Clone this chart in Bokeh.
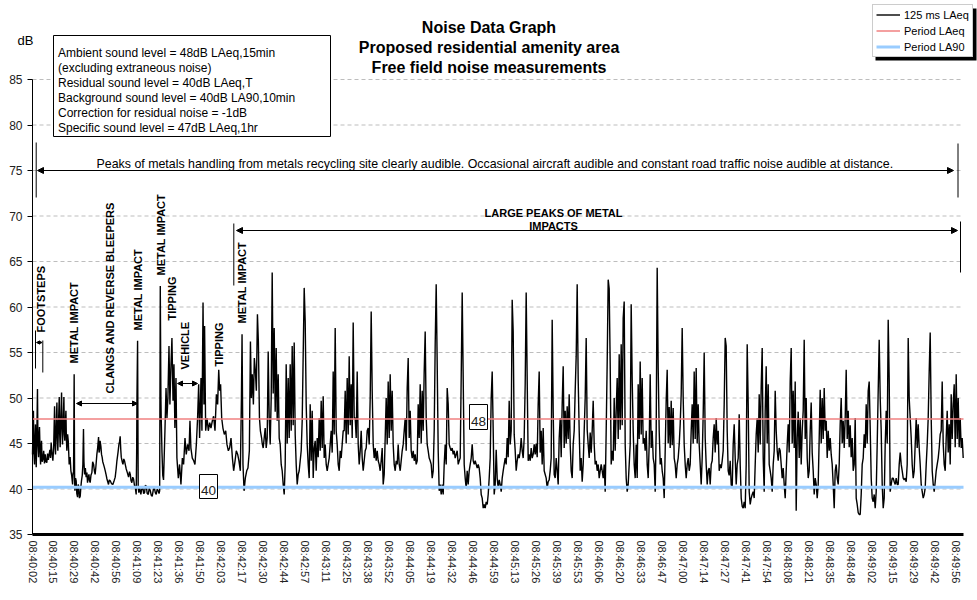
import numpy as np
from bokeh.plotting import figure
from bokeh.models import (Range1d, FixedTicker, Label, Arrow, NormalHead,
                          Legend, LegendItem, BoxAnnotation)
from bokeh.embed import file_html
from bokeh.resources import INLINE

# ---------------- data ----------------
# first part of the 125 ms LAeq trace: (seconds after 08:40:02, dB)
EARLY_POINTS = [
    (0.0, 43.8), (0.3, 46.5), (0.6, 48.6), (0.9, 44.0), (1.3, 42.7), (1.6, 45.5), (1.9, 47.1), (2.2, 44.0),
    (2.4, 42.4), (2.8, 46.0), (3.2, 51.0), (3.5, 45.0), (3.9, 43.5), (4.2, 45.8), (4.5, 46.8), (4.9, 44.0),
    (5.2, 42.7), (5.5, 44.5), (5.8, 45.3), (6.2, 43.0), (6.7, 43.3), (7.2, 44.2), (7.7, 42.8), (8.2, 43.8),
    (8.7, 43.0), (9.2, 42.9), (9.7, 43.9), (10.2, 43.2), (10.7, 43.8), (11.2, 44.3), (11.6, 43.4), (12.0, 45.1),
    (12.5, 44.0), (13.1, 43.1), (13.6, 44.5), (14.2, 49.1), (14.5, 45.0), (14.8, 43.8), (15.2, 46.5), (15.7, 49.5),
    (16.0, 45.5), (16.3, 44.2), (16.7, 47.0), (17.2, 50.1), (17.5, 46.0), (17.8, 44.6), (18.2, 47.5), (18.7, 50.6),
    (19.0, 46.5), (19.3, 44.9), (19.7, 47.0), (20.2, 50.1), (20.5, 46.0), (20.8, 45.3), (21.1, 47.0), (21.5, 48.6),
    (21.8, 45.5), (22.1, 44.2), (22.6, 46.0), (23.0, 45.3), (23.3, 44.0), (23.6, 42.7), (24.2, 43.5), (24.7, 42.0),
    (25.2, 41.5), (25.8, 40.5), (26.1, 41.8), (26.4, 41.6), (26.8, 52.6), (27.1, 41.0), (27.3, 39.8), (27.7, 41.2),
    (28.1, 40.9), (28.5, 39.5), (29.0, 39.1), (29.4, 40.5), (29.8, 40.2), (30.2, 39.0), (30.7, 39.2), (31.1, 40.2),
    (31.5, 40.9), (32.0, 41.5), (32.4, 42.7), (32.8, 46.6), (33.1, 43.0), (33.5, 41.6), (34.0, 42.3), (34.5, 41.3),
    (35.0, 41.8), (35.4, 40.7), (35.8, 41.2), (36.3, 41.6), (36.7, 40.9), (37.1, 40.7), (37.6, 41.5), (38.2, 41.8),
    (38.7, 43.0), (39.3, 42.7), (39.8, 42.0), (40.3, 41.6), (40.8, 42.5), (41.4, 43.8), (41.9, 44.5), (42.5, 45.7),
    (42.8, 44.0), (43.1, 44.2), (43.5, 45.3), (44.0, 44.7), (44.4, 43.8), (44.8, 43.5), (45.2, 43.0), (45.7, 42.7),
    (46.2, 42.4), (46.8, 42.0), (47.3, 41.6), (47.9, 41.1), (48.4, 40.8), (48.9, 40.5), (49.4, 41.0), (50.0, 40.9),
    (50.8, 40.6), (51.7, 40.5), (52.5, 40.9), (53.2, 41.3), (53.8, 42.2), (54.3, 43.1), (55.0, 44.0), (55.6, 44.9),
    (56.0, 45.2), (56.4, 45.8), (56.8, 44.3), (57.1, 43.5), (57.7, 43.0), (58.2, 42.7), (58.7, 43.3), (59.2, 43.1),
    (59.8, 42.6), (60.3, 42.2), (61.0, 41.8), (61.8, 41.3), (62.4, 41.9), (62.9, 41.6), (63.4, 40.9), (63.9, 40.7),
    (64.5, 41.3), (65.0, 41.1), (65.6, 40.4), (66.1, 40.2), (66.7, 39.4), (67.0, 44.0), (67.2, 50.1), (67.6, 56.3),
    (68.0, 40.2), (68.4, 39.6), (68.9, 40.3), (69.3, 39.8), (69.7, 39.4), (70.3, 40.0), (71.0, 40.2), (71.5, 39.5),
    (72.1, 39.6), (72.6, 40.4), (73.2, 40.3), (73.8, 39.5), (74.5, 39.4), (75.1, 40.1), (75.8, 39.8), (76.4, 39.3),
    (77.0, 39.2), (77.7, 39.9), (78.3, 40.2), (79.0, 39.6), (79.6, 39.4), (80.2, 40.0), (80.9, 39.8), (81.4, 39.5),
    (81.8, 39.8), (82.2, 62.3), (82.6, 50.0), (82.8, 47.8), (83.3, 44.0), (83.8, 41.5), (84.3, 41.0), (85.2, 46.4),
    (85.9, 51.1), (86.5, 47.8), (87.1, 50.0), (87.8, 55.7), (88.4, 49.3), (89.1, 53.7), (89.7, 56.6), (90.4, 49.7),
    (91.0, 53.7), (91.6, 46.7), (92.3, 52.2), (92.9, 43.4), (93.8, 41.2), (94.6, 42.7), (95.5, 40.5), (96.4, 43.4),
    (97.2, 42.7), (98.1, 45.6), (98.9, 43.8), (99.8, 44.9), (100.7, 44.2), (101.3, 47.5), (101.9, 44.5), (102.8, 43.4),
    (103.7, 43.1), (104.5, 42.7), (105.4, 44.9), (106.2, 47.8), (106.9, 51.5), (107.5, 45.6), (108.4, 52.2), (109.0, 46.4),
    (109.7, 60.5), (110.3, 49.3), (110.7, 57.9), (111.4, 46.4), (112.3, 47.8), (113.1, 46.4), (114.0, 47.3), (114.8, 46.7),
    (115.7, 47.5), (116.5, 48.0), (117.4, 46.4), (118.3, 50.4), (119.1, 49.3), (119.8, 53.1), (120.4, 50.8), (121.0, 51.5),
    (121.7, 47.8), (122.5, 46.7), (123.4, 46.0), (124.3, 46.4), (125.1, 44.9), (126.0, 44.2), (126.8, 44.5), (127.7, 45.6),
    (128.6, 43.4), (129.4, 42.0), (130.3, 43.1), (131.1, 44.2), (132.0, 43.8), (132.8, 43.1), (133.7, 42.0), (134.4, 50.0),
    (134.8, 57.0), (135.4, 42.7), (136.1, 39.8), (136.9, 41.2), (137.8, 42.0), (138.6, 42.3), (139.5, 44.2), (140.2, 56.2),
    (140.8, 50.0), (141.4, 52.6), (142.1, 49.3), (142.7, 54.4), (143.4, 52.9), (144.0, 50.8), (144.7, 59.2), (145.3, 56.2),
    (146.0, 47.8), (146.6, 46.4), (147.4, 45.6),
]

# later parts of the trace, one reading every SAMPLE_STEP_S seconds
SAMPLE_STEP_S = 0.6433
SEG1_START_S = 147.76
SEG1_DB = [
    45.0, 44.5, 45.6, 46.7, 44.5, 45.6, 55.1, 47.8, 44.9, 50.0,
    63.8, 50.5, 57.7, 48.5, 55.5, 47.5, 52.6, 45.6, 44.9, 42.7,
    42.0, 40.5, 39.4, 42.7, 53.7, 45.0, 52.2, 45.6, 53.7, 46.4,
    55.7, 47.0, 56.1, 46.0, 42.7, 40.5, 41.6, 42.0, 43.1, 44.2,
    47.5, 54.8, 62.1, 58.4, 49.3, 44.9, 42.7, 41.2, 49.3, 43.1,
    48.6, 41.2, 44.5, 45.3, 42.0, 45.6, 43.5, 47.8, 44.2, 49.7,
    44.5, 50.2, 43.4, 44.9, 42.7, 42.0, 42.7, 43.4, 44.9, 46.4,
    44.0, 52.9, 46.0, 57.7, 46.4, 44.9, 42.7, 42.0, 44.2, 43.4,
    44.9, 46.4, 46.4, 50.8, 45.0, 52.2, 46.0, 54.6, 47.0, 51.5,
    45.6, 58.3, 47.8, 47.8, 45.6, 52.9, 44.9, 42.7, 44.2, 46.4,
    43.4, 42.0, 43.1, 44.2, 44.5, 46.4, 46.7, 44.9, 50.0, 59.5,
    50.8, 44.9, 43.4, 44.5, 43.1, 44.2, 43.1, 42.7, 42.0, 43.1,
    44.5, 40.5, 41.6, 45.6, 50.0, 44.9, 51.8, 45.6, 52.6, 46.4,
    50.8, 44.9, 42.7, 42.0, 43.1, 42.7, 44.9, 42.7, 42.0, 43.1,
    44.2, 44.9, 46.4, 47.8, 44.2, 51.1, 54.4, 45.6, 48.6, 44.2,
    43.4, 44.2, 43.1, 43.8, 42.7, 43.1, 49.3, 45.6, 51.5, 45.0,
    50.8, 46.4, 52.9, 57.3, 47.8, 44.9, 44.2, 43.4, 43.1, 42.7,
    41.2, 42.0, 46.4, 55.9, 62.5, 53.7, 44.2, 39.8, 40.5, 39.4,
    40.5, 39.4, 42.7, 44.9, 42.7, 51.1, 49.3, 44.9, 44.5, 44.2,
    44.5, 43.8, 44.2, 43.4, 43.8, 44.2, 42.7, 43.1, 43.4, 52.2,
    61.6, 52.2, 42.7, 41.2, 40.1, 42.0, 40.5, 42.0, 42.7, 43.4,
    44.9, 43.1, 42.7, 43.1, 42.7, 42.3, 42.7, 42.3, 41.2, 39.4,
    39.0, 37.9, 38.3, 37.9, 38.6, 38.3, 39.4, 41.2, 43.4, 50.0,
    52.9, 46.4,
]
SEG2_START_S = 297.0
SEG2_DB = [
    39.4, 40.5, 44.3, 41.2, 40.1, 41.0, 40.5, 39.7, 41.2, 42.0,
    42.7, 43.4, 42.7, 45.6, 43.5, 49.7, 44.9, 46.4, 60.8, 57.3,
    46.0, 44.2, 42.0, 43.1, 43.8, 43.4, 44.2, 45.6, 44.2, 43.4,
    45.6, 51.5, 61.6, 52.0, 43.1, 43.8, 43.1, 44.5, 43.4, 43.8,
    44.9, 43.8, 45.0, 43.5, 49.3, 52.9, 44.0, 46.4, 42.7, 46.7,
    42.0, 41.6, 41.2, 40.1, 40.8, 41.0, 42.0, 43.4, 58.6, 48.6,
    41.6, 41.2, 43.4, 42.0, 40.5, 45.6, 47.8, 43.5, 49.3, 53.5,
    44.5, 48.6, 45.0, 49.1, 45.5, 50.4, 44.9, 42.0, 41.2, 44.9,
    46.4, 50.8, 54.6, 62.5, 52.0, 46.4, 42.0, 43.4, 40.8, 42.7,
    46.4, 50.0, 56.6, 46.5, 44.9, 43.4, 46.2, 44.0, 46.4, 49.7,
    44.9, 42.7, 43.1, 42.0, 42.7, 41.2, 42.0, 42.7, 42.0, 41.2,
    42.7, 39.7, 46.4, 53.9, 63.0, 62.0, 53.7, 42.7, 44.2, 43.1,
    50.0, 44.2, 48.6, 52.2, 45.5, 54.8, 46.5, 55.9, 47.0, 58.8,
    60.6, 44.9, 41.2, 39.7, 40.5, 42.7, 44.9, 60.3, 52.0, 46.4,
    42.7, 41.2, 44.9, 41.2, 51.5, 45.5, 54.0, 46.0, 52.2, 45.0,
    45.6, 44.2, 46.4, 42.7, 41.2, 44.9, 52.6, 44.5, 46.4, 43.4,
    42.7, 39.7, 46.4, 64.3, 53.3, 46.4, 42.7, 43.4, 42.0, 41.2,
    39.0, 44.2, 49.7, 53.1, 45.0, 49.0, 44.5, 49.7, 44.8, 48.9,
    43.4, 42.7, 41.2, 42.7, 43.4, 44.9, 47.1, 50.4, 57.7, 50.0,
    44.9, 42.7, 41.2, 42.7, 43.4, 42.0, 42.7, 46.4, 49.3, 45.0,
    52.9, 45.5, 53.3, 45.0, 49.3, 44.9, 42.7, 40.5, 43.4, 48.2,
    55.0, 45.6, 42.7, 40.5, 42.0, 42.3, 40.5, 42.7, 43.1, 45.6,
    47.1, 44.0, 47.8, 44.9, 46.4, 42.0, 42.7, 42.3, 43.1, 44.2,
    49.3, 56.6, 55.7, 46.4, 42.0,
]
SEG3_START_S = 448.18
SEG3_DB = [
    41.5, 43.1, 40.5, 40.1, 44.9, 47.1, 43.4, 40.5, 42.7, 43.4,
    48.2, 42.7, 39.0, 38.1, 37.9, 38.6, 37.9, 42.7, 55.9, 49.3,
    39.7, 38.3, 39.0, 39.4, 39.7, 39.0, 42.7, 46.0, 47.8, 44.0,
    50.4, 44.9, 51.3, 55.5, 43.4, 39.7, 48.6, 53.5, 45.0, 51.5,
    42.7, 42.0, 41.2, 39.7, 42.7, 44.2, 50.8, 46.4, 44.2, 43.1,
    44.5, 44.2, 42.7, 41.2, 42.3, 40.5, 39.0, 42.0, 44.9, 47.1,
    44.0, 51.8, 55.5, 45.0, 50.8, 44.5, 51.8, 37.6, 45.6, 48.5,
    43.4, 47.8, 42.7, 46.4, 48.6, 56.4, 45.5, 50.0, 43.4, 41.2,
    42.0, 46.4, 49.5, 44.0, 42.0, 39.4, 41.2, 40.5, 39.0, 40.5,
    45.6, 50.9, 45.0, 50.0, 45.5, 51.1, 46.4, 47.5, 43.4, 46.4,
    44.2, 45.6, 43.8, 42.7, 40.5, 37.9, 42.0, 42.7, 41.2, 40.5,
    42.7, 47.1, 50.0, 45.0, 47.5, 44.5, 47.8, 53.1, 45.5, 48.6,
    44.6, 47.0, 43.5, 45.6, 42.0, 42.7, 47.8, 39.0, 38.3, 37.4,
    37.2, 37.2, 39.4, 42.7, 43.4, 46.0, 44.5, 49.3, 45.0, 50.8,
    51.8, 46.7, 41.2, 39.0, 38.6, 39.4, 37.9, 39.7, 44.9, 50.8,
    56.4, 50.0, 46.4, 40.5, 37.9, 39.0, 44.9, 48.6, 45.0, 58.6,
    52.0, 39.7, 40.5, 41.2, 41.2, 40.8, 40.5, 41.2, 40.5, 40.5,
    42.7, 44.0, 42.7, 42.0, 41.2, 41.0, 41.2, 40.8, 42.7, 56.6,
    50.0, 47.8, 45.6, 42.7, 41.2, 42.0, 44.9, 47.8, 44.5, 47.1,
    44.5, 42.7, 40.5, 39.7, 39.0, 39.4, 40.1, 42.7, 44.9, 47.8,
    52.9, 57.2, 47.8, 42.0, 40.5, 39.7, 40.8, 42.0, 42.7, 43.4,
    44.5, 46.0, 46.4, 51.8, 45.0, 42.7, 42.0, 45.6, 48.6, 44.0,
    47.1, 42.7, 50.4, 45.5, 49.3, 51.5, 44.6, 52.6, 45.5, 50.0,
    44.6, 47.8, 44.5, 45.6, 43.4,
]

PERIOD_LAEQ = 47.7
PERIOD_LA90 = 40.2
PERIOD_LAEQ_LABEL = "48"
PERIOD_LA90_LABEL = "40"

TICK_INTERVAL_S = 13.5
X_TICK_LABELS = [
    "08:40:02", "08:40:15", "08:40:29", "08:40:42", "08:40:56", "08:41:09", "08:41:23", "08:41:36",
    "08:41:50", "08:42:03", "08:42:17", "08:42:30", "08:42:44", "08:42:57", "08:43:11", "08:43:25",
    "08:43:38", "08:43:52", "08:44:05", "08:44:19", "08:44:32", "08:44:46", "08:44:59", "08:45:13",
    "08:45:26", "08:45:39", "08:45:53", "08:46:06", "08:46:20", "08:46:33", "08:46:47", "08:47:00",
    "08:47:14", "08:47:27", "08:47:41", "08:47:54", "08:48:08", "08:48:21", "08:48:35", "08:48:48",
    "08:49:02", "08:49:15", "08:49:29", "08:49:42", "08:49:56",
]
Y_TICKS = [35, 40, 45, 50, 55, 60, 65, 70, 75, 80, 85]

INFO_LINES = [
    "Ambient sound level = 48dB LAeq,15min",
    "(excluding extraneous noise)",
    "Residual sound level = 40dB LAeq,T",
    "Background sound level = 40dB LA90,10min",
    "Correction for residual noise = -1dB",
    "Specific sound level = 47dB LAeq,1hr",
]
TITLE_LINES = ["Noise Data Graph", "Proposed residential amenity area", "Free field noise measurements"]

# ---------------- assemble the series ----------------
t = [pt[0] for pt in EARLY_POINTS]
db = [pt[1] for pt in EARLY_POINTS]
for start, seg in [(SEG1_START_S, SEG1_DB), (SEG2_START_S, SEG2_DB), (SEG3_START_S, SEG3_DB)]:
    t += [start + i * SAMPLE_STEP_S for i in range(len(seg))]
    db += seg

FONT = "Liberation Sans"
W, H = 977, 600

# layout helpers: reference-pixel position -> data coordinates (annotations only)
def tx(px):
    return (px - 32.0) / 1.5545

def ty(py):
    return 85.0 - (py - 79.0) / 9.1

X_END = tx(963)

p = figure(width=W, height=H, output_backend="svg", toolbar_location=None, title=None,
           x_range=Range1d(tx(0), tx(W)), y_range=Range1d(ty(H), ty(0)),
           min_border=0, min_border_left=0, min_border_right=0, min_border_top=0, min_border_bottom=0)
p.outline_line_color = None
p.background_fill_color = "white"
p.border_fill_color = "white"
p.xgrid.visible = False
p.ygrid.visible = False

# horizontal dashed gridlines across the plot area
grid_vals = [v for v in Y_TICKS if v > Y_TICKS[0]]
p.segment(x0=[0.0] * len(grid_vals), x1=[X_END] * len(grid_vals), y0=grid_vals, y1=grid_vals,
          line_color="#BDBDBD", line_dash="4 3", line_width=1)

# axes (kept inside the full-canvas frame)
tick_pos = [i * TICK_INTERVAL_S for i in range(len(X_TICK_LABELS))]
xa = p.xaxis[0]
xa.fixed_location = Y_TICKS[0]
xa.bounds = (0.0, X_END)
xa.ticker = FixedTicker(ticks=tick_pos, minor_ticks=[])
xa.major_label_overrides = {pos: lab for pos, lab in zip(tick_pos, X_TICK_LABELS)}
xa.major_label_orientation = "vertical"
xa.major_label_text_font = FONT
xa.major_label_text_font_size = "11px"
xa.major_label_text_color = "#222222"
xa.major_label_standoff = 6
xa.axis_line_width = 3
xa.axis_line_color = "black"
xa.major_tick_out = 0
xa.major_tick_in = 0
xa.minor_tick_line_color = None

ya = p.yaxis[0]
ya.fixed_location = 0.0
ya.bounds = (Y_TICKS[0], Y_TICKS[-1])
ya.ticker = FixedTicker(ticks=Y_TICKS, minor_ticks=[])
ya.major_label_text_font = FONT
ya.major_label_text_font_size = "12px"
ya.major_label_text_color = "#222222"
ya.major_label_standoff = 5
ya.major_tick_out = 5
ya.major_tick_in = 0
ya.axis_line_width = 1
ya.minor_tick_line_color = None

# series
r_trace = p.line(t, db, line_color="black", line_width=1.4)
r_laeq = p.line([0.0, X_END], [PERIOD_LAEQ, PERIOD_LAEQ], line_color="#F08080", line_width=1.5)
r_la90 = p.line([0.0, X_END], [PERIOD_LA90, PERIOD_LA90], line_color="#99CCFF", line_width=3)

def lab(text, px, py, size="11px", bold=False, align="left", baseline="alphabetic", angle=0.0, color="black"):
    p.add_layout(Label(x=tx(px), y=ty(py), text=text, text_font=FONT, text_font_size=size,
                       text_font_style="bold" if bold else "normal", text_color=color,
                       text_align=align, text_baseline=baseline, angle=angle))

def box(px0, py0, px1, py1, fill="white", line="black"):
    p.add_layout(BoxAnnotation(left=tx(px0), right=tx(px1), top=ty(py0), bottom=ty(py1),
                               fill_color=fill, fill_alpha=1.0, line_color=line, line_width=1,
                               line_alpha=1.0 if line else 0.0))

def arrow(px0, py0, px1, py1, heads=True, size=6):
    kw = {}
    if heads:
        kw["start"] = NormalHead(size=size, fill_color="black", line_color="black", line_width=1)
        kw["end"] = NormalHead(size=size, fill_color="black", line_color="black", line_width=1)
    else:
        kw["start"] = None
        kw["end"] = None
    p.add_layout(Arrow(x_start=tx(px0), y_start=ty(py0), x_end=tx(px1), y_end=ty(py1),
                       line_color="black", line_width=1, **kw))

# title
for line, base in zip(TITLE_LINES, [26.7, 46.7, 66.7]):
    lab(line, 488.5, base, size="16px", bold=True, align="center")

lab("dB", 17, 39.5, size="13px")

# info box
box(53, 35, 330, 136)
for i, line in enumerate(INFO_LINES):
    lab(line, 57.5, 52.3 + 15.1 * i, size="12px")

# main annotation
arrow(37, 170, 953, 170, size=6)
arrow(35.7, 142, 35.7, 197, heads=False)
arrow(957.5, 143, 957.5, 197, heads=False)
lab("Peaks of metals handling from metals recycling site clearly audible. Occasional aircraft audible "
    "and constant road traffic noise audible at distance.", 96, 163, size="12.4px")

# large peaks annotation
arrow(236, 230, 957, 230, size=6)
arrow(233.3, 223, 233.3, 285, heads=False)
arrow(960, 221, 960, 272, heads=False)
lab("LARGE PEAKS OF METAL", 553, 212, size="11px", bold=True, align="center")
lab("IMPACTS", 553, 225, size="11px", bold=True, align="center")

# event annotations (vertical text)
V = np.pi / 2
for text, px, py in [("FOOTSTEPS", 40, 332), ("METAL IMPACT", 73.5, 363),
                     ("CLANGS AND REVERSE BLEEPERS", 109, 393), ("METAL IMPACT", 137.5, 330),
                     ("METAL IMPACT", 160.5, 275), ("TIPPING", 171.5, 320), ("VEHICLE", 184, 369),
                     ("TIPPING", 218.5, 366), ("METAL IMPACT", 241.5, 323)]:
    lab(text, px, py, size="11px", bold=True, baseline="middle", angle=V)

arrow(35, 330, 35, 368, heads=False)
arrow(42.3, 340, 42.3, 372, heads=False)
arrow(36, 342, 41.5, 342, size=3)
arrow(76, 403, 137, 403, size=5)
arrow(177, 383, 197, 383, size=5)

# period value boxes
box(469, 404, 487, 429)
lab(PERIOD_LAEQ_LABEL, 478, 420.5, size="13.5px", align="center", color="#222222")
box(199, 474, 217, 498)
lab(PERIOD_LA90_LABEL, 208, 490, size="13.5px", align="center", color="#222222")

# legend with drop shadow
box(875, 8, 976, 60, fill="black", line=None)
legend = Legend(items=[LegendItem(label="125 ms LAeq", renderers=[r_trace]),
                       LegendItem(label="Period LAeq", renderers=[r_laeq]),
                       LegendItem(label="Period LA90", renderers=[r_la90])],
                location=(872, 600 - 57), orientation="vertical",
                label_text_font=FONT, label_text_font_size="11px", label_text_color="black",
                glyph_width=24, glyph_height=13, label_height=13, label_standoff=4,
                spacing=3, padding=3, margin=0,
                border_line_color="#999999", border_line_width=1,
                background_fill_color="white", background_fill_alpha=1.0)
p.add_layout(legend)

open("out.html", "w").write(file_html(p, INLINE))
